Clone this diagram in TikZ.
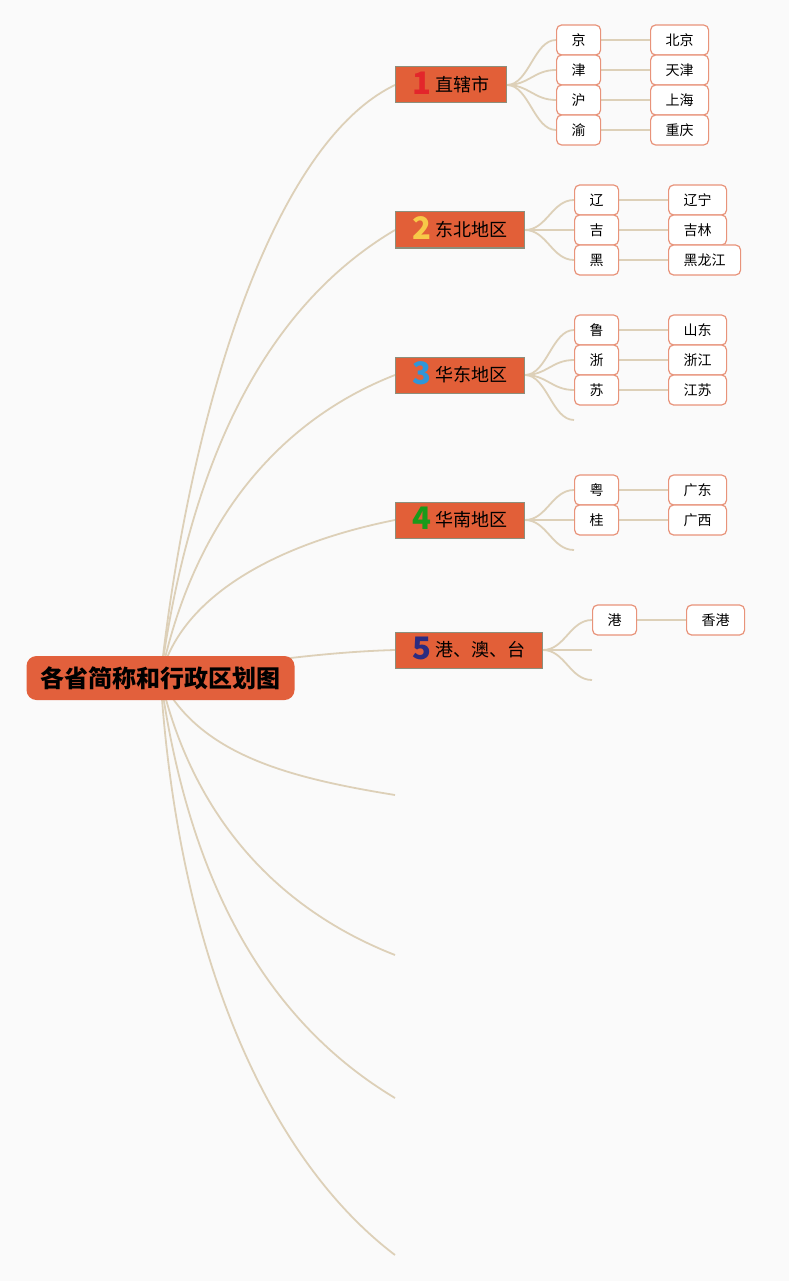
\documentclass[tikz,border=0pt]{standalone}
\usepackage{fontspec}
\setmainfont{Noto Sans CJK SC}
\usetikzlibrary{backgrounds}

\definecolor{paper}{HTML}{FAFAFA}
\definecolor{rootfill}{HTML}{E2603C}
\definecolor{topicfill}{HTML}{E25F38}
\definecolor{topicline}{HTML}{8C8F7C}
\definecolor{leafline}{HTML}{E8937A}
\definecolor{linkcol}{HTML}{DDD0B8}
\definecolor{numA}{HTML}{E3262B}
\definecolor{numB}{HTML}{F7C948}
\definecolor{numC}{HTML}{2F96D8}
\definecolor{numD}{HTML}{1A9A1A}
\definecolor{numE}{HTML}{2C2C80}

\newcommand\numtag[2]{\smash{\raisebox{-2.5pt}{\color{#1}\fontsize{31}{31}\selectfont\bfseries #2}}\hspace{4pt}}

\tikzset{
  root/.style={fill=rootfill, rounded corners=10pt, minimum height=44pt,
    inner xsep=14pt, font=\fontsize{24}{24}\selectfont\bfseries},
  topic/.style={fill=topicfill, draw=topicline, line width=1pt, anchor=west,
    minimum height=36pt, inner xsep=17pt, font=\fontsize{18}{18}\selectfont},
  leaf/.style={fill=white, draw=leafline, line width=1.2pt, rounded corners=5pt,
    anchor=west, minimum height=30pt, inner xsep=15pt, font=\fontsize{14}{14}\selectfont},
  link/.style={draw=linkcol, line width=1.8pt}
}

\begin{document}
\begin{tikzpicture}[x=1pt,y=-1pt]
  \useasboundingbox (0,0) rectangle (789,1281);
  \draw
    (160.5,678) node[root] (0){各省简称和行政区划图}
    (395,85) node[topic] (1){\numtag{numA}{1}直辖市}
    (395,230) node[topic] (2){\numtag{numB}{2}东北地区}
    (395,375) node[topic] (3){\numtag{numC}{3}华东地区}
    (395,520) node[topic] (4){\numtag{numD}{4}华南地区}
    (395,650) node[topic] (5){\numtag{numE}{5}港、澳、台};
  \draw
    (556,40) node[leaf] (1a){京}
    (556,70) node[leaf] (1b){津}
    (556,100) node[leaf] (1c){沪}
    (556,130) node[leaf] (1d){渝}
    (650,40) node[leaf] (1aa){北京}
    (650,70) node[leaf] (1bb){天津}
    (650,100) node[leaf] (1cc){上海}
    (650,130) node[leaf] (1dd){重庆}
    (574,200) node[leaf] (2a){辽}
    (574,230) node[leaf] (2b){吉}
    (574,260) node[leaf] (2c){黑}
    (668,200) node[leaf] (2aa){辽宁}
    (668,230) node[leaf] (2bb){吉林}
    (668,260) node[leaf] (2cc){黑龙江}
    (574,330) node[leaf] (3a){鲁}
    (574,360) node[leaf] (3b){浙}
    (574,390) node[leaf] (3c){苏}
    (668,330) node[leaf] (3aa){山东}
    (668,360) node[leaf] (3bb){浙江}
    (668,390) node[leaf] (3cc){江苏}
    (574,490) node[leaf] (4a){粤}
    (574,520) node[leaf] (4b){桂}
    (668,490) node[leaf] (4aa){广东}
    (668,520) node[leaf] (4bb){广西}
    (592,620) node[leaf] (5a){港}
    (686,620) node[leaf] (5aa){香港};
  % loose ends
  \coordinate (6) at (395,795);
  \coordinate (7) at (395,955);
  \coordinate (8) at (395,1098);
  \coordinate (9) at (395,1255);
  \coordinate (3d) at (574,420);
  \coordinate (4c) at (574,550);
  \coordinate (5b) at (592,650);
  \coordinate (5c) at (592,680);
  \begin{scope}[on background layer]
    \fill[paper] (0,0) rectangle (789,1281);
    \begin{scope}[link]
      \draw (0.center) .. controls +(28,-258) and +(-125,60) .. (1.west);
      \draw (0.center) .. controls +(28,-208) and +(-135,80) .. (2.west);
      \draw (0.center) .. controls +(33,-158) and +(-115,45) .. (3.west);
      \draw (0.center) .. controls +(18,-78) and +(-125,25) .. (4.west);
      \draw (0.center) .. controls +(68,-13) and +(-75,2) .. (5.west);
      \draw (0.center) .. controls +(38,77) and +(-105,-17) .. (6);
      \draw (0.center) .. controls +(33,142) and +(-115,-45) .. (7);
      \draw (0.center) .. controls +(28,202) and +(-130,-78) .. (8);
      \draw (0.center) .. controls +(18,282) and +(-125,-95) .. (9);
      \foreach \a/\b in {1/1a,1/1b,1/1c,1/1d,2/2a,2/2b,2/2c,3/3a,3/3b,3/3c,
                         4/4a,4/4b,5/5a,3/3d,4/4c,5/5b,5/5c}
        \draw (\a.east) .. controls +(22,0) and +(-22,0) .. (\b.west);
      \foreach \a/\b in {1a/1aa,1b/1bb,1c/1cc,1d/1dd,2a/2aa,2b/2bb,2c/2cc,
                         3a/3aa,3b/3bb,3c/3cc,4a/4aa,4b/4bb,5a/5aa}
        \draw (\a.east) -- (\b.west);
    \end{scope}
  \end{scope}
\end{tikzpicture}
\end{document}
